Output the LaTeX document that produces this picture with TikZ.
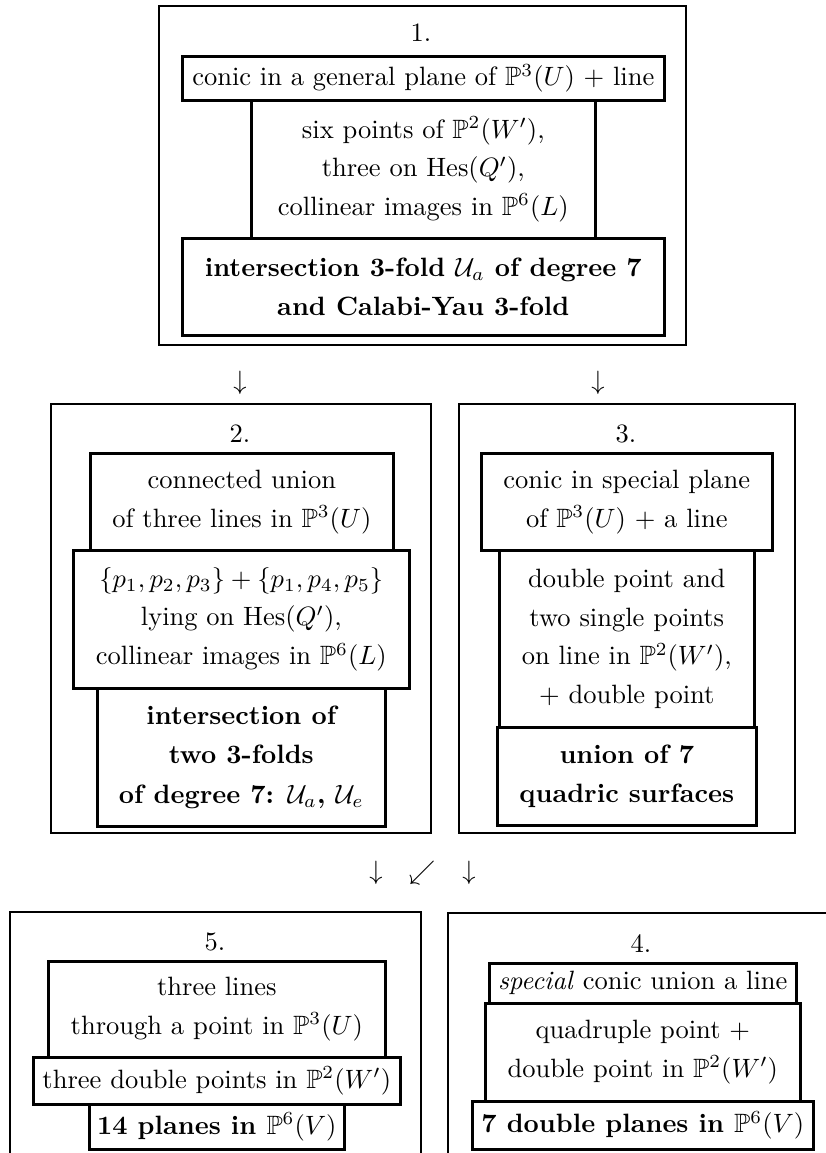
\documentclass[tikz,border=0pt]{standalone}
\usepackage{amssymb}
\newcommand\bx[7]{%
  \node[#1, minimum width=#5pt, minimum height=#6pt] (#2) at (#3,#4) {};
  \node[#1 text] (#2t) at (#2.center) {#7};}
\begin{document}
\begin{tikzpicture}[x=1pt,y=-1pt,
  txt/.style={scale=2.65, inner sep=0pt, align=center, font=\fontsize{10}{14.6}\selectfont},
  frame/.style={draw, line width=2.2pt, inner sep=0pt, anchor=north west},
  cell/.style={draw, line width=2.6pt, inner sep=0pt, anchor=north west},
  bcell/.style={cell},
  cell text/.style={txt},
  bcell text/.style={txt, font=\fontsize{10}{15}\selectfont\bfseries}]
\useasboundingbox (0,0) rectangle (825,1153);

% Box 1
\node[frame, minimum width=527pt, minimum height=339pt] (f1) at (158,5) {};
\node[txt] (t1) at (421,33) {1.};
\bx{cell}{c1a}{181}{55}{482}{44}{conic in a general plane of $\mathbb{P}^3(U)$ + line}
\bx{cell}{c1b}{250}{99}{344}{138}{six points of $\mathbb{P}^2(W')$,\\ three on $\mathrm{Hes}(Q')$,\\ collinear images in $\mathbb{P}^6(L)$}
\bx{bcell}{c1c}{181}{237}{482}{97}{intersection 3-fold $\mathcal{U}_a$ of degree 7\\ and Calabi-Yau 3-fold}

% arrows
\node[txt] (a1) at (240,383) {$\downarrow$};
\node[txt] (a2) at (598,383) {$\downarrow$};

% Box 2
\node[frame, minimum width=380pt, minimum height=429pt] (f2) at (50,403) {};
\node[txt] (t2) at (240,434) {2.};
\bx{cell}{c2a}{89}{452}{303}{97}{connected union\\ of three lines in $\mathbb{P}^3(U)$}
\bx{cell}{c2b}{72}{549}{336}{138}{$\{p_1,p_2,p_3\}+\{p_1,p_4,p_5\}$\\ lying on $\mathrm{Hes}(Q')$,\\ collinear images in $\mathbb{P}^6(L)$}
\bx{bcell}{c2c}{96}{687}{288}{138}{intersection of\\ two 3-folds\\ of degree 7: $\mathcal{U}_a$, $\mathcal{U}_e$}

% Box 3
\node[frame, minimum width=336pt, minimum height=429pt] (f3) at (458,403) {};
\node[txt] (t3) at (626,434) {3.};
\bx{cell}{c3a}{480}{452}{291}{97}{conic in special plane\\ of $\mathbb{P}^3(U)$ + a line}
\bx{cell}{c3b}{498}{549}{255}{177}{double point and\\ two single points\\ on line in $\mathbb{P}^2(W')$,\\ + double point}
\bx{bcell}{c3c}{496}{726}{259}{98}{union of 7\\ quadric surfaces}

% arrows
\node[txt] (a3) at (376,873) {$\downarrow$};
\node[txt] (a4) at (422,873) {$\swarrow$};
\node[txt] (a5) at (469,873) {$\downarrow$};

% Box 5
\draw[line width=2.2pt] (10,1160) -- (10,912) -- (421,912) -- (421,1160);
\node[txt] (t5) at (215,942) {5.};
\bx{cell}{c5a}{47}{960}{337}{96}{three lines\\ through a point in $\mathbb{P}^3(U)$}
\bx{cell}{c5b}{32}{1056}{367}{47}{three double points in $\mathbb{P}^2(W')$}
\bx{bcell}{c5c}{88}{1103}{255}{45}{14 planes in {\mdseries$\mathbb{P}^6(V)$}}

% Box 4
\draw[line width=2.2pt] (448,1160) -- (448,913) -- (840,913);
\node[txt] (t4) at (641,944) {4.};
\bx{cell}{c4a}{488}{962}{307}{40}{\emph{special} conic union a line}
\bx{cell}{c4b}{484}{1002}{315}{98}{quadruple point +\\ double point in $\mathbb{P}^2(W')$}
\bx{bcell}{c4c}{471}{1100}{341}{48}{7 double planes in {\mdseries$\mathbb{P}^6(V)$}}
\end{tikzpicture}
\end{document}
